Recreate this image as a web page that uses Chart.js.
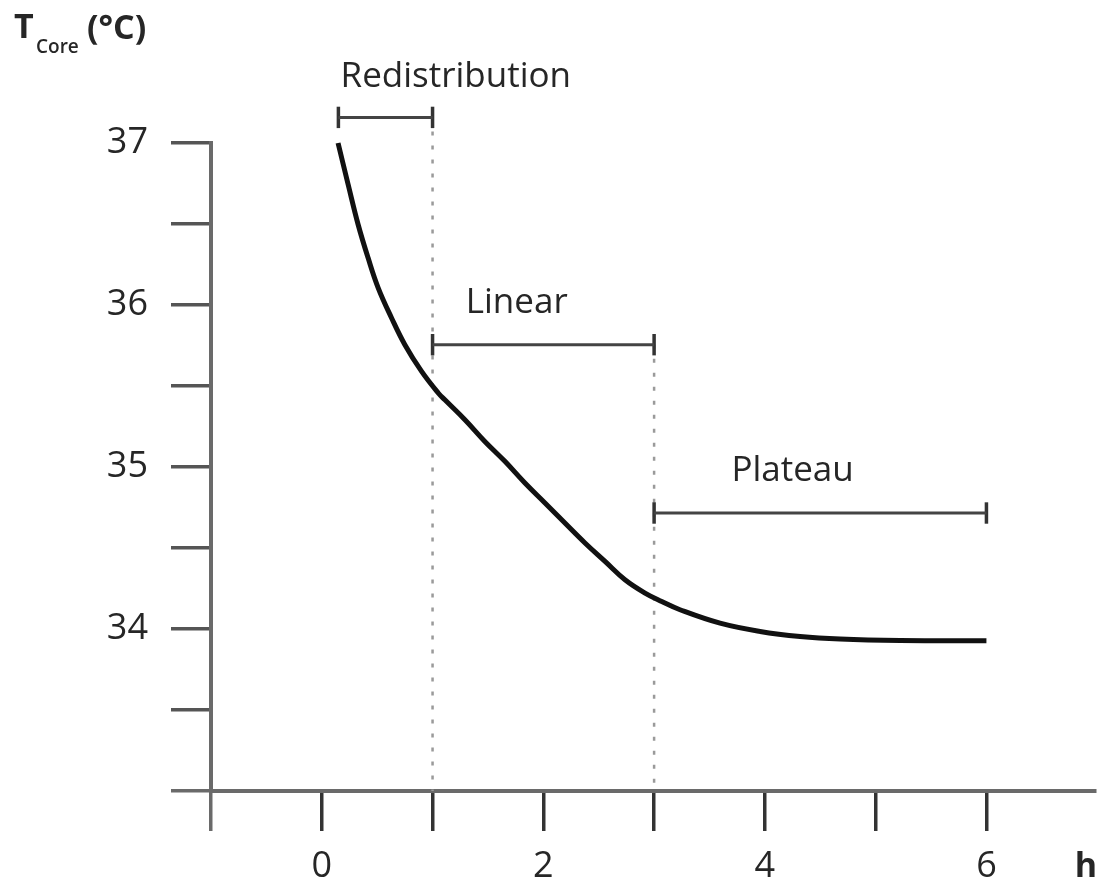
<!DOCTYPE html>
<html><head><meta charset="utf-8">
<script src="https://cdn.jsdelivr.net/npm/chart.js@4.4.0/dist/chart.umd.min.js"></script>
<style>html,body{margin:0;padding:0;background:#fff;overflow:hidden}#wrap{width:1102px;height:883px;position:relative}</style>
</head><body><div id="wrap"><canvas id="c" width="1102" height="883"></canvas></div>
<script>
// Core temperature curve (hours, °C)
const timeH    = [0.147, 0.238, 0.328, 0.418, 0.509, 0.630, 0.750, 0.901, 1.051, 1.111, 1.292, 1.472, 1.653, 1.834, 2.015, 2.195, 2.376, 2.557, 2.737, 2.918, 3.069, 3.234, 3.595, 3.957, 4.318, 4.679, 5.221, 6.000];
const coreTemp = [37.00, 36.744, 36.497, 36.291, 36.106, 35.920, 35.755, 35.590, 35.457, 35.415, 35.292, 35.158, 35.035, 34.901, 34.778, 34.654, 34.531, 34.417, 34.304, 34.222, 34.170, 34.119, 34.036, 33.985, 33.954, 33.938, 33.929, 33.927];

// Axis ticks
const xTicks      = [-1, 0, 1, 2, 3, 4, 5, 6];
const xTickLabels = ['', '0', '', '2', '', '4', '', '6'];
const yTicks      = [33, 33.5, 34, 34.5, 35, 35.5, 36, 36.5, 37];
const yTickLabels = ['', '', '34', '', '35', '', '36', '', '37'];

// Phases
const phaseNames    = ['Redistribution', 'Linear', 'Plateau'];
const phaseStart    = [0.15, 1, 3];
const phaseEnd      = [1, 3, 6];
const phaseBracketY = [37.158, 35.755, 34.716];
const phaseLabelX   = [1.21, 1.76, 4.25];
const phaseLabelY   = [37.41, 36.01, 34.975];

// Phase boundaries (dotted verticals)
const boundaryX   = [1, 3];
const boundaryTop = [37.158, 35.755];

const CAP_HALF = 0.066; // half height of bracket end caps, in °C
const FONT = '"Open Sans", "Liberation Sans", sans-serif';
const TEXT = '#262626';
Chart.defaults.font.family = FONT;

const datasets = [];
datasets.push({
  data: timeH.map((x, i) => ({x, y: coreTemp[i]})),
  borderColor: '#111', borderWidth: 5, pointRadius: 0,
  tension: 0.4, clip: false, order: 0
});
phaseNames.forEach((n, i) => {
  const y = phaseBracketY[i];
  datasets.push({
    data: [{x: phaseStart[i], y}, {x: phaseEnd[i], y}],
    borderColor: '#444', borderWidth: 3, pointRadius: 0, clip: false, order: 1
  });
  [phaseStart[i], phaseEnd[i]].forEach(x => {
    datasets.push({
      data: [{x, y: y - CAP_HALF}, {x, y: y + CAP_HALF}],
      borderColor: '#333', borderWidth: 3.5, borderCapStyle: 'butt',
      pointRadius: 0, clip: false, order: 1
    });
  });
});
boundaryX.forEach((x, i) => {
  datasets.push({
    data: [{x, y: boundaryTop[i]}, {x, y: 33}],
    borderColor: '#9a9a9a', borderWidth: 2.5, borderDash: [4, 10],
    pointRadius: 0, clip: false, order: 2
  });
});

const textPlugin = {
  id: 'texts',
  afterDraw(chart) {
    const c = chart.ctx, xs = chart.scales.x, ys = chart.scales.y;
    c.save();
    c.fillStyle = TEXT;
    c.textAlign = 'center';
    c.textBaseline = 'middle';
    c.font = '35px ' + FONT;
    phaseNames.forEach((n, i) => {
      c.fillText(n, xs.getPixelForValue(phaseLabelX[i]), ys.getPixelForValue(phaseLabelY[i]));
    });
    // y-axis title
    c.textAlign = 'left';
    c.textBaseline = 'alphabetic';
    c.font = 'bold 34px ' + FONT;
    c.fillText('T', 14, 38);
    c.font = '600 19px ' + FONT;
    c.fillText('Core', 36, 53);
    c.font = 'bold 34px ' + FONT;
    c.fillText('(°C)', 87, 39);
    // x-axis title
    c.textAlign = 'center';
    c.fillText('h', 1086, 877);
    c.restore();
  }
};

new Chart(document.getElementById('c'), {
  type: 'line',
  data: {datasets},
  options: {
    responsive: false, animation: false, events: [],
    layout: {padding: {top: 143, right: 7, left: 0, bottom: 0}},
    plugins: {legend: {display: false}, tooltip: {enabled: false}},
    scales: {
      x: {
        type: 'linear', min: -1, max: 6.98,
        afterBuildTicks: s => { s.ticks = xTicks.map(v => ({value: v})); },
        afterFit: s => { s.height = 92; },
        ticks: {
          autoSkip: false, maxRotation: 0, padding: 14, color: TEXT,
          font: {size: 36},
          callback: v => xTickLabels[xTicks.indexOf(v)]
        },
        grid: {
          drawOnChartArea: false, drawTicks: true, tickLength: 40, lineWidth: 3.5,
          color: ctx => (ctx.tick && ctx.tick.value === -1) ? '#6a6a6a' : '#333'
        },
        border: {color: '#6a6a6a', width: 4}
      },
      y: {
        type: 'linear', min: 33, max: 37,
        afterBuildTicks: s => { s.ticks = yTicks.map(v => ({value: v})); },
        afterFit: s => { s.width = 211; },
        ticks: {
          autoSkip: false, padding: 23, color: TEXT,
          font: {size: 36},
          callback: v => yTickLabels[yTicks.indexOf(v)]
        },
        grid: {
          drawOnChartArea: false, drawTicks: true, tickLength: 40, lineWidth: 3.5,
          color: ctx => (ctx.tick && ctx.tick.value === 33) ? '#6a6a6a' : '#555'
        },
        border: {color: '#6a6a6a', width: 4}
      }
    }
  },
  plugins: [textPlugin]
});
</script></body></html>
